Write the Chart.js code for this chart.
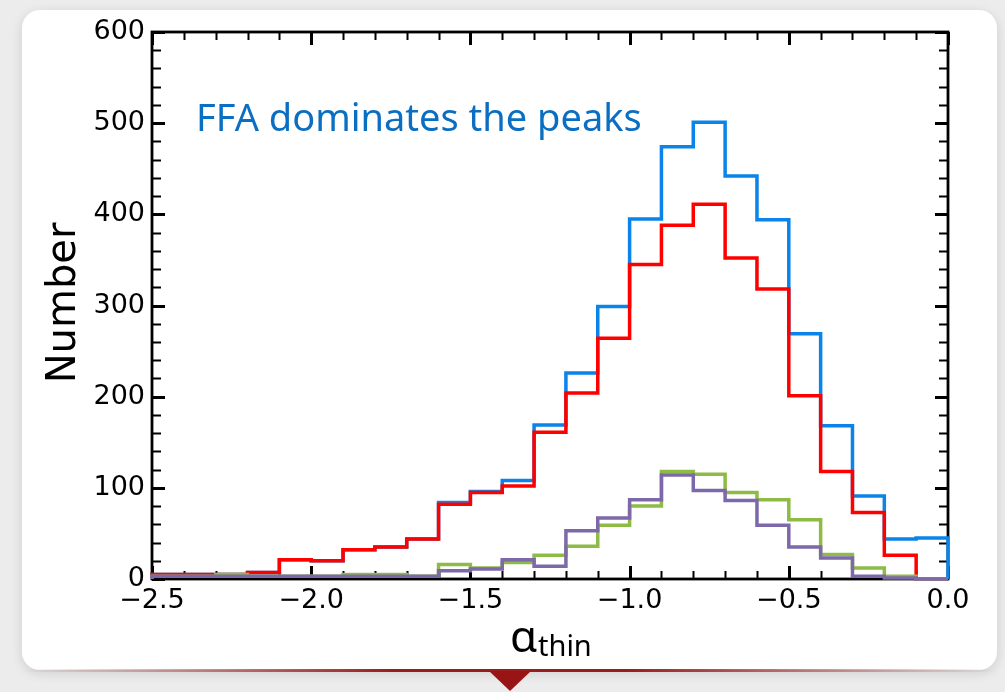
<!DOCTYPE html>
<html>
<head>
<meta charset="utf-8">
<title>alpha_thin histogram</title>
<script src="https://cdn.jsdelivr.net/npm/chart.js@4.4.1/dist/chart.umd.min.js"></script>
<style>
  html, body { margin: 0; padding: 0; }
  body {
    width: 1005px; height: 692px; overflow: hidden; position: relative;
    background: #ececec;
  }
  .card {
    position: absolute; left: 22px; top: 10px; width: 975px; height: 660px;
    background: #ffffff; border-radius: 18px;
    box-shadow: 0 3px 12px rgba(0, 0, 0, 0.13);
  }
  .rule {
    position: absolute; left: 22px; top: 669px; width: 975px; height: 3px;
    background: linear-gradient(to right, rgba(155, 28, 28, 0), #9b1c1c 38%, #9b1c1c 62%, rgba(155, 28, 28, 0));
  }
  .pointer {
    position: absolute; left: 489px; top: 671px; width: 0; height: 0;
    border-left: 21px solid transparent; border-right: 21px solid transparent;
    border-top: 20px solid #991414;
  }
  .chart-box { position: absolute; left: 0; top: 0; width: 1005px; height: 692px; }
</style>
</head>
<body>
<div class="card"></div>
<div class="rule"></div>
<div class="pointer"></div>
<div class="chart-box"><canvas id="alphaHist"></canvas></div>

<script>
// bin edges of alpha_thin (0.1 wide)
const binEdges = [-2.5, -2.4, -2.3, -2.2, -2.1, -2.0, -1.9, -1.8, -1.7, -1.6, -1.5, -1.4, -1.3,
                  -1.2, -1.1, -1.0, -0.9, -0.8, -0.7, -0.6, -0.5, -0.4, -0.3, -0.2, -0.1, 0.0];

// counts per bin
const allCounts    = [5, 5, 5, 7, 21, 20, 32, 35, 44, 84, 96, 108, 169, 226, 299, 395, 474, 501, 442, 394, 269, 168, 91, 44, 45];
const ffaCounts    = [5, 5, 5, 7, 21, 20, 32, 35, 44, 82, 95, 102, 161, 204, 264, 345, 388, 411, 352, 318, 201, 118, 73, 26, 0];
const greenCounts  = [3, 3, 5, 3, 3, 3, 5, 5, 3, 16, 12, 18, 26, 36, 59, 80, 118, 115, 95, 87, 65, 27, 12, 3, 0];
const purpleCounts = [3, 3, 3, 3, 3, 3, 3, 3, 3, 9, 11, 21, 14, 53, 67, 87, 114, 97, 86, 59, 35, 23, 3, 1, 0];

const xTicks = [-2.5, -2.0, -1.5, -1.0, -0.5, 0.0];
const yTicks = [0, 100, 200, 300, 400, 500, 600];

// outline of a histogram: up at the first edge, across each bin, down at the last edge
function stepOutline(counts) {
    const pts = [{ x: binEdges[0], y: 0 }];
    counts.forEach((c, i) => pts.push({ x: binEdges[i], y: c }));
    const last = counts.length;
    pts.push({ x: binEdges[last], y: counts[last - 1] });
    pts.push({ x: binEdges[last], y: 0 });
    return pts;
}

function histSet(counts, color, order) {
    return {
        data: stepOutline(counts),
        borderColor: color,
        borderWidth: 3.5,
        stepped: 'before',
        pointRadius: 0,
        fill: false,
        clip: false,
        order: order
    };
}

function fmtTick(v) {
    const s = Math.abs(v).toFixed(1);
    return v < -1e-9 ? '\u2212' + s : s;
}

// frame, inward ticks and the text around the plot
const histDecor = {
    id: 'histDecor',
    beforeDatasetsDraw(chart) {
        const { ctx, chartArea, scales } = chart;
        const { left, right, top, bottom } = chartArea;
        ctx.save();
        ctx.strokeStyle = '#000';
        ctx.lineCap = 'butt';

        for (let k = 0; k <= 25; k++) {
            const px = Math.round(scales.x.getPixelForValue(-2.5 + k * 0.1)) + 0.5;
            const major = k % 5 === 0;
            const len = major ? 13 : 8;
            ctx.lineWidth = major ? 3 : 2;
            ctx.beginPath();
            ctx.moveTo(px, bottom); ctx.lineTo(px, bottom - len);
            ctx.moveTo(px, top); ctx.lineTo(px, top + len);
            ctx.stroke();
        }
        for (let k = 0; k <= 30; k++) {
            const py = Math.round(scales.y.getPixelForValue(k * 20)) + 0.5;
            const major = k % 5 === 0;
            const len = major ? 13 : 9;
            ctx.lineWidth = major ? 3 : 2;
            ctx.beginPath();
            ctx.moveTo(left, py); ctx.lineTo(left + len, py);
            ctx.moveTo(right, py); ctx.lineTo(right - len, py);
            ctx.stroke();
        }

        ctx.lineWidth = 2.8;
        ctx.strokeRect(left, top, right - left, bottom - top);
        ctx.restore();
    },
    afterDraw(chart) {
        const { ctx } = chart;
        ctx.save();

        ctx.fillStyle = '#0a6fc2';
        ctx.font = '38px "Noto Sans"';
        ctx.textBaseline = 'alphabetic';
        ctx.fillText('FFA dominates the peaks', 196, 131);

        ctx.fillStyle = '#000';
        ctx.font = '44px "Noto Sans"';
        ctx.fillText('\u03b1', 510, 652);
        ctx.font = '29px "Noto Sans"';
        ctx.fillText('thin', 538, 656);

        ctx.translate(75, 303);
        ctx.rotate(-Math.PI / 2);
        ctx.textAlign = 'center';
        ctx.font = '40px "DejaVu Sans"';
        ctx.fillText('Number', 0, 0);
        ctx.restore();
    }
};

new Chart(document.getElementById('alphaHist'), {
    type: 'line',
    data: {
        datasets: [
            histSet(allCounts, '#0a84e8', 4),
            histSet(ffaCounts, '#ff0000', 3),
            histSet(greenCounts, '#8dbb45', 2),
            histSet(purpleCounts, '#7d68aa', 1)
        ]
    },
    options: {
        responsive: true,
        maintainAspectRatio: false,
        animation: false,
        layout: { padding: { top: 32, right: 57, left: 0, bottom: 0 } },
        plugins: {
            legend: { display: false },
            tooltip: { enabled: false }
        },
        scales: {
            x: {
                type: 'linear',
                min: -2.5,
                max: 0,
                afterBuildTicks: s => { s.ticks = xTicks.map(v => ({ value: v })); },
                afterFit: s => { s.height = 113; s.paddingLeft = 0; s.paddingRight = 0; },
                grid: { display: false, drawTicks: false },
                border: { display: false },
                ticks: {
                    callback: v => fmtTick(v),
                    color: '#000',
                    font: { family: 'DejaVu Sans', size: 27 },
                    padding: 6,
                    maxRotation: 0,
                    autoSkip: false
                }
            },
            y: {
                min: 0,
                max: 600,
                afterBuildTicks: s => { s.ticks = yTicks.map(v => ({ value: v })); },
                afterFit: s => { s.width = 152; s.paddingTop = 0; s.paddingBottom = 0; },
                grid: { display: false, drawTicks: false },
                border: { display: false },
                ticks: {
                    callback: v => String(v),
                    color: '#000',
                    font: { family: 'DejaVu Sans', size: 27 },
                    padding: 7,
                    autoSkip: false
                }
            }
        }
    },
    plugins: [histDecor]
});
</script>
</body>
</html>
